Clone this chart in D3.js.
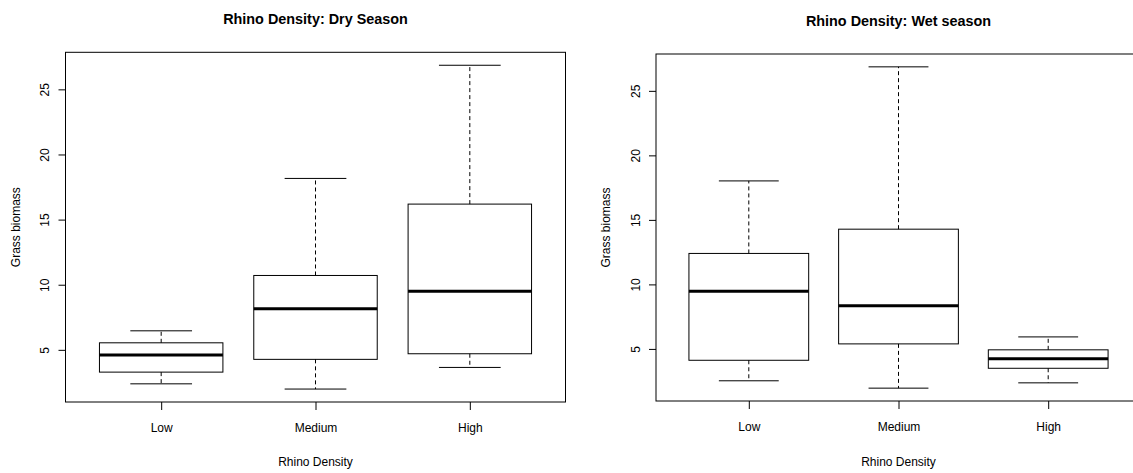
<!DOCTYPE html>
<html>
<head>
<meta charset="utf-8">
<script src="https://cdn.jsdelivr.net/npm/d3@7"></script>
<style>
  html, body { margin: 0; padding: 0; background: #fff; }
  text { font-family: "Liberation Sans", Arial, Helvetica, sans-serif; fill: #000; }
</style>
</head>
<body>
<svg id="chart" width="1133" height="473"></svg>
<script>
// ---- data ----
const categories = ["Low", "Medium", "High"];
const yTicks = [5, 10, 15, 20, 25];

// Dry season: whisker low, Q1, median, Q3, whisker high
const dryLow    = [2.39, 3.29, 4.60, 5.54, 6.46];
const dryMedium = [1.99, 4.27, 8.15, 10.71, 18.16];
const dryHigh   = [3.65, 4.70, 9.49, 16.19, 26.85];

// Wet season
const wetLow    = [2.53, 4.12, 9.46, 12.40, 18.02];
const wetMedium = [1.96, 5.39, 8.35, 14.28, 26.86];
const wetHigh   = [2.37, 3.50, 4.23, 4.93, 5.93];

const titles = ["Rhino Density: Dry Season", "Rhino Density: Wet season"];
const xTitle = "Rhino Density";
const yTitle = "Grass biomass";

const panels = [
  { title: titles[0], boxes: [dryLow, dryMedium, dryHigh], x0: 65.5, x1: 565.5, y0: 402, y1: 52.3 },
  { title: titles[1], boxes: [wetLow, wetMedium, wetHigh], x0: 656, x1: 1141, y0: 401, y1: 54 }
];

const svg = d3.select("#chart");

panels.forEach(p => {
  const g = svg.append("g");
  const n = categories.length;
  const xl = [0.5, n + 0.5];
  const xr = xl[1] - xl[0];
  const x = d3.scaleLinear().domain([xl[0] - 0.04 * xr, xl[1] + 0.04 * xr]).range([p.x0, p.x1]);
  const all = p.boxes.flat();
  const mn = d3.min(all), mx = d3.max(all), r = mx - mn;
  const y = d3.scaleLinear().domain([mn - 0.04 * r, mx + 0.04 * r]).range([p.y0, p.y1]);

  // boxes
  p.boxes.forEach((b, i) => {
    const c = i + 1;
    const [wl, q1, med, q3, wh] = b;
    // whiskers (dashed)
    g.append("line").attr("x1", x(c)).attr("x2", x(c)).attr("y1", y(q3)).attr("y2", y(wh))
      .attr("stroke", "#000").attr("stroke-width", 1).attr("stroke-dasharray", "4,3");
    g.append("line").attr("x1", x(c)).attr("x2", x(c)).attr("y1", y(q1)).attr("y2", y(wl))
      .attr("stroke", "#000").attr("stroke-width", 1).attr("stroke-dasharray", "4,3");
    // staples
    [wl, wh].forEach(v => {
      g.append("line").attr("x1", x(c - 0.2)).attr("x2", x(c + 0.2)).attr("y1", y(v)).attr("y2", y(v))
        .attr("stroke", "#000").attr("stroke-width", 1);
    });
    // box
    g.append("rect").attr("x", x(c - 0.4)).attr("width", x(c + 0.4) - x(c - 0.4))
      .attr("y", y(q3)).attr("height", y(q1) - y(q3))
      .attr("fill", "none").attr("stroke", "#000").attr("stroke-width", 1);
    // median
    g.append("line").attr("x1", x(c - 0.4)).attr("x2", x(c + 0.4)).attr("y1", y(med)).attr("y2", y(med))
      .attr("stroke", "#000").attr("stroke-width", 3);
  });

  // frame
  g.append("rect").attr("x", p.x0).attr("y", p.y1).attr("width", p.x1 - p.x0).attr("height", p.y0 - p.y1)
    .attr("fill", "none").attr("stroke", "#000").attr("stroke-width", 1);

  // x axis
  const xa = g.append("g").attr("transform", `translate(0,${p.y0})`)
    .call(d3.axisBottom(x).tickValues(d3.range(1, n + 1)).tickFormat(d => categories[d - 1]).tickSize(8).tickPadding(13));
  xa.select(".domain").remove();
  xa.selectAll("line").attr("stroke", "#000");
  xa.selectAll("text").attr("font-size", 12).attr("fill", "#000")
    .style("font-family", '"Liberation Sans", Arial, sans-serif');

  // y axis
  const ya = g.append("g").attr("transform", `translate(${p.x0},0)`)
    .call(d3.axisLeft(y).tickValues(yTicks).tickSize(7).tickFormat(d3.format("d")));
  ya.select(".domain").remove();
  ya.selectAll("line").attr("stroke", "#000");
  ya.selectAll("text")
    .attr("x", null).attr("dy", null)
    .attr("text-anchor", "middle")
    .attr("transform", "translate(-20.5,0) rotate(-90)")
    .attr("dominant-baseline", "central")
    .attr("font-size", 12).attr("fill", "#000")
    .style("font-family", '"Liberation Sans", Arial, sans-serif');

  // titles
  const cx = (p.x0 + Math.min(p.x1, p.x1)) / 2;
  g.append("text").attr("x", cx).attr("y", p.y1 - 28).attr("text-anchor", "middle")
    .attr("font-size", 14.4).attr("font-weight", "bold").text(p.title);
  g.append("text").attr("x", cx).attr("y", 466).attr("text-anchor", "middle")
    .attr("font-size", 12).text(xTitle);
  g.append("text")
    .attr("transform", `translate(${p.x0 - 50},${(p.y0 + p.y1) / 2}) rotate(-90)`)
    .attr("text-anchor", "middle").attr("dominant-baseline", "central")
    .attr("font-size", 12).text(yTitle);
});
</script>
</body>
</html>
